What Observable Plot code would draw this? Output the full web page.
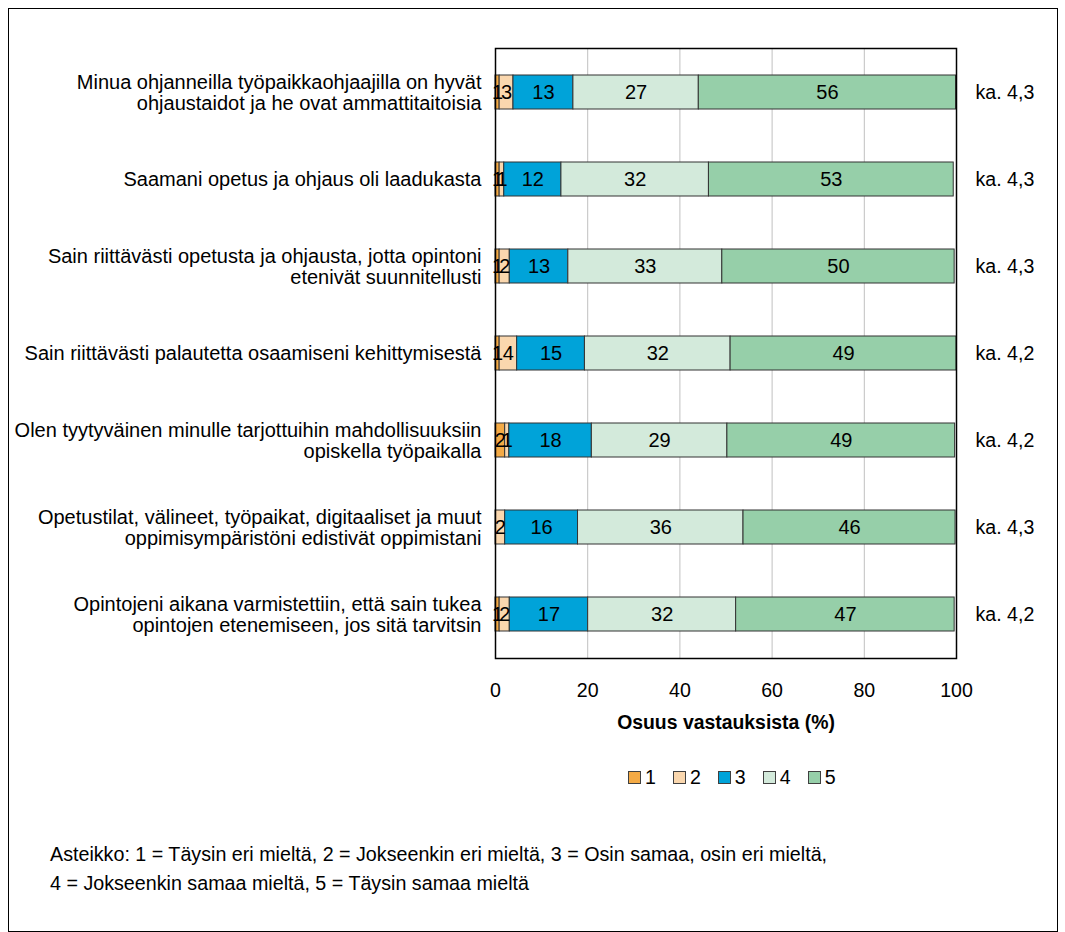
<!DOCTYPE html>
<html>
<head>
<meta charset="utf-8">
<script src="https://cdn.jsdelivr.net/npm/d3@7"></script>
<script src="https://cdn.jsdelivr.net/npm/@observablehq/plot@0.6"></script>
<style>
  body { margin: 0; background: #fff; font-family: "Liberation Sans", Arial, sans-serif; color: #000; }
  #page { position: relative; width: 1065px; height: 932px; overflow: hidden; }
  #border { position: absolute; left: 8px; top: 8px; width: 1050px; height: 924px; border: 1.5px solid #000; box-sizing: border-box; }
  #chart { position: absolute; left: 0; top: 0; }
  #legend { position: absolute; top: 767px; left: 628px; display: flex; gap: 17px; font-size: 19.6px; line-height: 21px; }
  .item { display: flex; align-items: center; }
  .sw { width: 11px; height: 11px; border: 1px solid #404040; margin-right: 4px; }
  #note { position: absolute; left: 50px; top: 840px; font-size: 19.7px; line-height: 29px; }
</style>
</head>
<body>
<div id="page">
  <div id="border"></div>
  <div id="chart"></div>
  <div id="legend"></div>
  <div id="note">Asteikko: 1 = Täysin eri mieltä, 2 = Jokseenkin eri mieltä, 3 = Osin samaa, osin eri mieltä,<br>4 = Jokseenkin samaa mieltä, 5 = Täysin samaa mieltä</div>
</div>
<script>
const questions = [
  "Minua ohjanneilla työpaikkaohjaajilla on hyvät\nohjaustaidot ja he ovat ammattitaitoisia",
  "Saamani opetus ja ohjaus oli laadukasta",
  "Sain riittävästi opetusta ja ohjausta, jotta opintoni\netenivät suunnitellusti",
  "Sain riittävästi palautetta osaamiseni kehittymisestä",
  "Olen tyytyväinen minulle tarjottuihin mahdollisuuksiin\nopiskella työpaikalla",
  "Opetustilat, välineet, työpaikat, digitaaliset ja muut\noppimisympäristöni edistivät oppimistani",
  "Opintojeni aikana varmistettiin, että sain tukea\nopintojen etenemiseen, jos sitä tarvitsin"
];
const levels = ["1", "2", "3", "4", "5"];
// shares (%) estimated from the bar segment lengths; labels are the rounded values
const level1 = [0.9, 0.9, 0.9, 0.9, 2.1, 0, 0.9];
const level2 = [3.0, 1.0, 2.2, 3.8, 0.9, 2.1, 2.2];
const level3 = [13.0, 12.4, 12.7, 14.7, 17.9, 15.8, 17.0];
const level4 = [27.2, 32.0, 33.4, 31.6, 29.4, 35.9, 32.1];
const level5 = [55.8, 53.1, 50.4, 49.0, 49.4, 46.0, 47.4];
const averages = ["ka. 4,3", "ka. 4,3", "ka. 4,3", "ka. 4,2", "ka. 4,2", "ka. 4,3", "ka. 4,2"];
const xTicks = [0, 20, 40, 60, 80, 100];
const colors = ["#f4aa45", "#fad7ae", "#00a3d9", "#d3eadb", "#96cfa9"];
const xLabel = "Osuus vastauksista (%)";

const series = [level1, level2, level3, level4, level5];
const data = [];
questions.forEach((q, i) => {
  series.forEach((s, k) => data.push({q, level: levels[k], value: s[i]}));
});

const chart = Plot.plot({
  width: 1065,
  height: 700,
  marginLeft: 495,
  marginRight: 109,
  marginTop: 48,
  marginBottom: 42,
  style: {fontFamily: "'Liberation Sans', Arial, sans-serif", fontSize: "20px", color: "#000", background: "transparent", overflow: "visible"},
  x: {domain: [0, 100]},
  y: {domain: questions, paddingInner: 0.61, paddingOuter: 0.305, axis: null},
  color: {domain: levels, range: colors},
  marks: [
    Plot.gridX([20, 40, 60, 80], {stroke: "#c0c0c0", strokeOpacity: 1, strokeWidth: 1}),
    Plot.barX(data, {x: "value", y: "q", fill: "level", stroke: "#333", strokeWidth: 1}),
    Plot.text(data, Plot.stackX({x: "value", y: "q", z: "level", text: d => d.value > 0 ? String(Math.round(d.value)) : "", fill: "#000", fontSize: 20})),
    Plot.text(questions, {x: 100, y: d => d, text: (d, i) => averages[i], textAnchor: "start", dx: 19, fill: "#000", fontSize: 19.6}),
    Plot.frame({stroke: "#000", strokeWidth: 1.5}),
    Plot.axisX(xTicks, {tickSize: 0, tickPadding: 25, label: null, fontSize: 19.6}),
    Plot.text(questions, {y: d => d, text: d => d, frameAnchor: "left", textAnchor: "end", dx: -14, lineHeight: 1.07, fontSize: 20, fill: "#000"}),
    Plot.text([xLabel], {frameAnchor: "bottom", dy: 70, fontWeight: "bold", fontSize: 19.4, fill: "#000"})
  ]
});
document.getElementById("chart").appendChild(chart);

const legend = document.getElementById("legend");
levels.forEach((l, k) => {
  const item = document.createElement("div");
  item.className = "item";
  const sw = document.createElement("div");
  sw.className = "sw";
  sw.style.background = colors[k];
  const t = document.createElement("span");
  t.textContent = l;
  item.appendChild(sw);
  item.appendChild(t);
  legend.appendChild(item);
});
</script>
</body>
</html>
